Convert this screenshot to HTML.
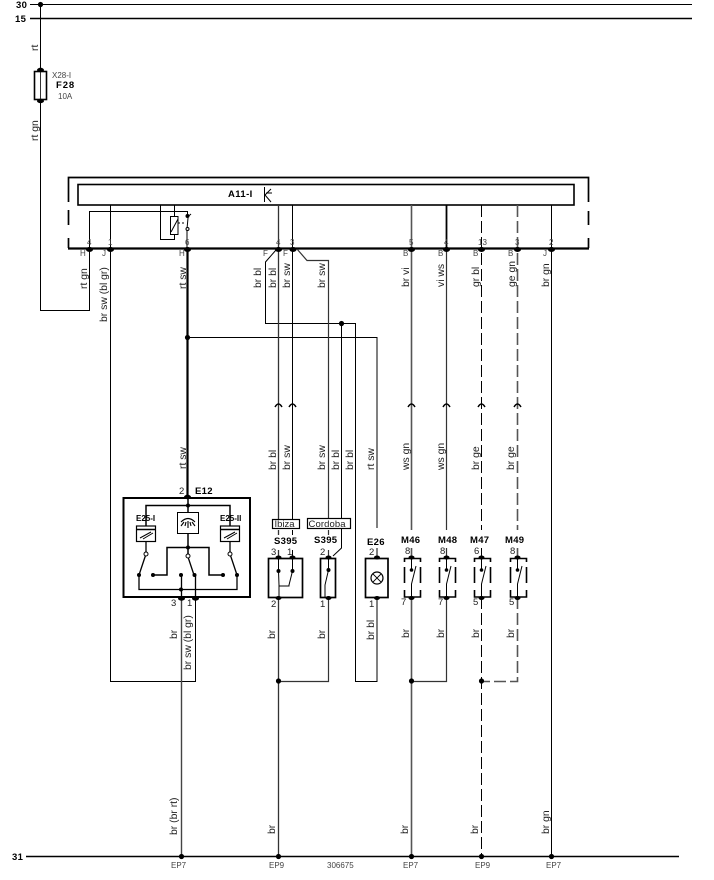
<!DOCTYPE html>
<html>
<head>
<meta charset="utf-8">
<style>
html,body{margin:0;padding:0;background:#fff;width:714px;height:880px;overflow:hidden}
svg{display:block}
text{font-family:"Liberation Sans",sans-serif;font-size:9.5px;fill:#222}
.b{font-weight:bold;fill:#000;font-size:9.5px;letter-spacing:.3px}
.s{font-size:8px;fill:#444}
.v{font-size:10.4px;fill:#222}
</style>
</head>
<body>
<svg width="714" height="880" viewBox="0 0 714 880" xmlns="http://www.w3.org/2000/svg">
<rect width="714" height="880" fill="#fff"/>
<g fill="none" stroke="#000" stroke-width="1">
<!-- buses -->
<path d="M30 4.5H692" stroke-width="1.1"/>
<path d="M30 18.5H692" stroke-width="1.5"/>
<path d="M26 856.5H679" stroke-width="1.6"/>
<!-- supply wire -->
<path d="M40.5 4V71M40.5 100V310.5H89.5V248"/>
<rect x="34.5" y="71.5" width="12" height="28" stroke-width="1.6"/>
<path d="M40.5 71V100" stroke="#333"/>
<!-- frame -->
<path d="M68.5 202V177.5H588.5V202M68.5 210V225M588.5 211V225M68.5 238V248M588.5 238V248" stroke-width="1.7"/>
<path d="M68 248.5H589" stroke-width="2.2"/>
<rect x="78" y="184.5" width="496" height="20.5" stroke-width="1.6"/>
<!-- transistor -->
<path d="M264.5 187V202M265 195L271 189M265 195L271 202M266 193H272" stroke-width="1"/>
<!-- relay -->
<path d="M89.5 248V211.5H187.5V217"/>
<path d="M160.5 205V239.5H174.5V234M174.5 205V216"/>
<rect x="170.5" y="216.5" width="7.5" height="18"/>
<path d="M171 232L178 219"/>
<path d="M178 223H186" stroke-dasharray="2 2"/>
<path d="M187.5 217L191 214M188 218L187 229V248"/>
<circle cx="187.5" cy="229" r="1.5" fill="#fff"/>
<circle cx="187.5" cy="216" r="1.5" fill="#000"/>
<!-- wires from controller -->
<path d="M110.5 205V681.5H195.5V597"/>
<path d="M187.5 248V497" stroke-width="2.2"/>
<path d="M187 337.5H377M377 337V528M377 548V558M377 598V681.5H355.5V323.5H265.5V262L276 250"/>
<path d="M278.5 205V519M278.5 530V535M278.5 550V558M278.5 597V856" stroke="#333" stroke-width="1.3"/>
<path d="M292.5 205V519M292.5 530V535M292.5 550V558"/>
<path d="M297 249L307 260.5H328.5V518M328.5 530V535M328.5 550V558M328.5 597V681.5H278" stroke="#333" stroke-width="1.2"/>
<path d="M341.5 323V518M341.5 528V548L333 556"/>
<path d="M181.5 597V856" stroke="#444" stroke-width="1.4"/>
<path d="M411.5 205V530M411.5 548V558M411.5 597V856" stroke="#555" stroke-width="1.6"/>
<path d="M446.5 205V248" stroke-width="1.8"/>
<path d="M446.5 248V530M446.5 548V558M446.5 597V681.5H411" stroke="#333" stroke-width="1.2"/>
<path d="M481.5 205V530M481.5 548V558M481.5 597V856" stroke-dasharray="12 4"/>
<path d="M517.5 205V530M517.5 548V558M517.5 597V681.5H481" stroke="#555" stroke-width="1.6" stroke-dasharray="12 4"/>
<path d="M551.5 205V856"/>
<!-- chevrons -->
<path d="M275 407Q278.5 401 282 407M289 407Q292.5 401 296 407M408 407Q411.5 401 415 407M443 407Q446.5 401 450 407M478 407Q481.5 401 485 407M514 407Q517.5 401 521 407" stroke-width="1.5"/>
<!-- E12 -->
<rect x="123.5" y="498" width="126.5" height="99" stroke-width="2"/>
<path d="M146 526V505.5H230V526M188 498V512M188 533V556" stroke-width="1.5"/>
<rect x="177.5" y="512.5" width="21" height="21"/>
<path d="M181 522Q188 515 195 522M181 526L184 522M188 528V521M195 526L192 522M185 526L186 522M191 526L190 522" stroke-width="1.1"/>
<rect x="136.5" y="526" width="19" height="15.5" stroke-width="1.2"/>
<rect x="220.5" y="526" width="19" height="15.5" stroke-width="1.2"/>
<path d="M137 529.5H155M221 529.5H239" stroke-width="1.6"/>
<path d="M140 538L151 532M143 539L153 533M224 538L235 532M227 539L237 533" stroke-width="1"/>
<path d="M146 541V553M230 541V553M146 554L139 575M230 554L237 575M188 557L194 575" stroke-width="1.3"/>
<path d="M153 575H167V547.5H209V575H223" stroke-width="1.5"/>
<path d="M139 575V589.5H237V575M181.5 575V597M195.5 575V597" stroke-width="1.3"/>
<circle cx="146" cy="554" r="2" fill="#fff"/>
<circle cx="188" cy="556" r="2" fill="#fff"/>
<circle cx="230" cy="554" r="2" fill="#fff"/>
<!-- name boxes -->
<rect x="272.5" y="519.5" width="27" height="9" stroke-width="1.2"/>
<rect x="307.5" y="518.5" width="43" height="10" stroke-width="1.2"/>
<!-- S395 -->
<rect x="268.5" y="558.5" width="34" height="39" stroke-width="1.7"/>
<rect x="320.5" y="558.5" width="15" height="39" stroke-width="1.7"/>
<path d="M278.5 558V571M292.5 558V571M278.5 571L279 585V597M292.5 571L289 585V586H279" stroke-width="1"/>
<path d="M328.5 558V570L325 585V597" stroke-width="1"/>
<!-- E26 -->
<rect x="365.5" y="558.5" width="22.5" height="39" stroke-width="1.7"/>
<circle cx="377" cy="578" r="6" stroke-width="1.2"/>
<path d="M372.7 573.7L381.3 582.3M381.3 573.7L372.7 582.3"/>
<!-- Motors -->
<g stroke-width="1.6">
<path d="M404.5 562V558.5H420.5V562M404.5 567V583M420.5 567V583M404.5 590V597H420.5V590"/>
<path d="M439.5 562V558.5H455.5V562M439.5 567V583M455.5 567V583M439.5 590V597H455.5V590"/>
<path d="M474.5 562V558.5H490.5V562M474.5 567V583M490.5 567V583M474.5 590V597H490.5V590"/>
<path d="M510.5 562V558.5H526.5V562M510.5 567V583M526.5 567V583M510.5 590V597H526.5V590"/>
</g>
<path d="M411.5 558V570M416 566L411.5 584V597M446.5 558V570M451 566L446.5 584V597M481.5 558V570M486 566L481.5 584V597M517.5 558V570M522 566L517.5 584V597"/>
</g>
<!-- dots -->
<g fill="#000">
<circle cx="40.5" cy="4.5" r="2.6"/>
<circle cx="187.5" cy="337.5" r="2.6"/>
<circle cx="341.5" cy="323.5" r="2.6"/>
<circle cx="278.5" cy="681" r="2.6"/>
<circle cx="411.5" cy="681" r="2.6"/>
<circle cx="481.5" cy="681" r="2.6"/>
<circle cx="181.5" cy="856.5" r="2.6"/>
<circle cx="278.5" cy="856.5" r="2.6"/>
<circle cx="411.5" cy="856.5" r="2.6"/>
<circle cx="481.5" cy="856.5" r="2.6"/>
<circle cx="551.5" cy="856.5" r="2.6"/>
<circle cx="188" cy="505.5" r="2"/><circle cx="188" cy="547.5" r="2"/>
<circle cx="139" cy="575" r="2"/><circle cx="153" cy="575" r="2"/>
<circle cx="181" cy="575" r="2"/><circle cx="194.5" cy="575" r="2"/>
<circle cx="223" cy="575" r="2"/><circle cx="237" cy="575" r="2"/>
<circle cx="181" cy="589.5" r="2"/>
<circle cx="278.5" cy="571" r="2"/><circle cx="292.5" cy="571" r="2"/><circle cx="328.5" cy="570" r="2"/>
<circle cx="411.5" cy="570" r="1.8"/><circle cx="446.5" cy="570" r="1.8"/><circle cx="481.5" cy="570" r="1.8"/><circle cx="517.5" cy="570" r="1.8"/>
<!-- connectors -->
<ellipse cx="40.5" cy="70" rx="3.5" ry="2.2"/><ellipse cx="40.5" cy="101" rx="3.5" ry="2.2"/>
<ellipse cx="89.5" cy="249.5" rx="3.5" ry="2.5"/><ellipse cx="110.5" cy="249.5" rx="3.5" ry="2.5"/>
<ellipse cx="187.5" cy="249.5" rx="3.5" ry="2.5"/><ellipse cx="278.5" cy="249.5" rx="3.5" ry="2.5"/>
<ellipse cx="293" cy="249.5" rx="3.5" ry="2.5"/><ellipse cx="411.5" cy="249.5" rx="3.5" ry="2.5"/>
<ellipse cx="446.5" cy="249.5" rx="3.5" ry="2.5"/><ellipse cx="481.5" cy="249.5" rx="3.5" ry="2.5"/>
<ellipse cx="517.5" cy="249.5" rx="3.5" ry="2.5"/><ellipse cx="551.5" cy="249.5" rx="3.5" ry="2.5"/>
<ellipse cx="187.5" cy="497" rx="3.5" ry="2.2"/>
<ellipse cx="181.5" cy="598.5" rx="3.5" ry="2.2"/><ellipse cx="195.5" cy="598.5" rx="3.5" ry="2.2"/>
<ellipse cx="278.5" cy="557.5" rx="3" ry="2"/><ellipse cx="292.5" cy="557.5" rx="3" ry="2"/>
<ellipse cx="278.5" cy="598" rx="3" ry="2"/>
<ellipse cx="328.5" cy="557.5" rx="3" ry="2"/><ellipse cx="328.5" cy="598" rx="3" ry="2"/>
<ellipse cx="377" cy="557.5" rx="3" ry="2"/><ellipse cx="377" cy="598" rx="3" ry="2"/>
<ellipse cx="411.5" cy="557.5" rx="3" ry="2"/><ellipse cx="411.5" cy="598" rx="3" ry="2"/>
<ellipse cx="446.5" cy="557.5" rx="3" ry="2"/><ellipse cx="446.5" cy="598" rx="3" ry="2"/>
<ellipse cx="481.5" cy="557.5" rx="3" ry="2"/><ellipse cx="481.5" cy="598" rx="3" ry="2"/>
<ellipse cx="517.5" cy="557.5" rx="3" ry="2"/><ellipse cx="517.5" cy="598" rx="3" ry="2"/>
</g>
<!-- horizontal labels -->
<text class="b" x="16" y="8">30</text>
<text class="b" x="15" y="22">15</text>
<text class="b" x="12" y="860">31</text>
<text class="s" x="52" y="78">X28-I</text>
<text class="b" x="56" y="88" style="letter-spacing:.9px">F28</text>
<text class="s" x="58" y="99">10A</text>
<text class="b" x="228" y="197" style="letter-spacing:.4px">A11-I</text>
<text class="b" x="195" y="494">E12</text>
<text x="179" y="494">2</text>
<text class="b" x="136" y="521" style="font-size:8px;letter-spacing:0">E25-I</text>
<text class="b" x="220" y="521" style="font-size:8px;letter-spacing:0">E25-II</text>
<text x="171" y="606">3</text><text x="187" y="606">1</text>
<text x="274.5" y="527">Ibiza</text>
<text x="308.5" y="527" style="letter-spacing:.1px">Cordoba</text>
<text class="b" x="274" y="544">S395</text>
<text class="b" x="314" y="543">S395</text>
<text class="b" x="367" y="545">E26</text>
<text class="b" x="401" y="543">M46</text>
<text class="b" x="438" y="543">M48</text>
<text class="b" x="470" y="543">M47</text>
<text class="b" x="505" y="543">M49</text>
<text x="271" y="555">3</text><text x="287" y="555">1</text><text x="271" y="607">2</text>
<text x="320" y="555">2</text><text x="320" y="607">1</text>
<text x="369" y="555">2</text><text x="369" y="607">1</text>
<text x="405" y="554">8</text><text x="440" y="554">8</text><text x="474" y="554">6</text><text x="510" y="554">8</text>
<text x="401" y="605">7</text><text x="438" y="605">7</text><text x="473" y="605">5</text><text x="509" y="605">5</text>
<g class="n">
<text class="s" x="87" y="245">4</text><text class="s" x="108" y="245">1</text><text class="s" x="185" y="245">6</text>
<text class="s" x="276" y="245">4</text><text class="s" x="290" y="245">3</text><text class="s" x="409" y="245">5</text>
<text class="s" x="444" y="245">4</text><text class="s" x="478" y="245">13</text><text class="s" x="515" y="245">3</text><text class="s" x="549" y="245">2</text>
<text class="s" x="80" y="256">H</text><text class="s" x="102" y="256">J</text><text class="s" x="179" y="256">H</text>
<text class="s" x="263" y="256">F</text><text class="s" x="283" y="256">F</text>
<text class="s" x="403" y="256">B</text><text class="s" x="438" y="256">B</text><text class="s" x="473" y="256">B</text><text class="s" x="508" y="256">B</text><text class="s" x="543" y="256">J</text>
</g>
<text class="s" x="171" y="868">EP7</text><text class="s" x="269" y="868">EP9</text>
<text class="s" x="327" y="868">306675</text>
<text class="s" x="403" y="868">EP7</text><text class="s" x="475" y="868">EP9</text><text class="s" x="546" y="868">EP7</text>
<!-- vertical labels -->
<g class="v">
<text class="v" transform="translate(38 51) rotate(-90)">rt</text>
<text class="v" transform="translate(38 141) rotate(-90)">rt gn</text>
<text class="v" transform="translate(87 289) rotate(-90)">rt gn</text>
<text class="v" transform="translate(107 322) rotate(-90)">br sw (bl gr)</text>
<text class="v" transform="translate(186 289) rotate(-90)">rt sw</text>
<text class="v" transform="translate(261 288) rotate(-90)">br bl</text>
<text class="v" transform="translate(276 288) rotate(-90)">br bl</text>
<text class="v" transform="translate(290 288) rotate(-90)">br sw</text>
<text class="v" transform="translate(325 288) rotate(-90)">br sw</text>
<text class="v" transform="translate(409 287) rotate(-90)">br vi</text>
<text class="v" transform="translate(444 287) rotate(-90)">vi ws</text>
<text class="v" transform="translate(479 287) rotate(-90)">gr bl</text>
<text class="v" transform="translate(515 287) rotate(-90)">ge gn</text>
<text class="v" transform="translate(549 287) rotate(-90)">br gn</text>
<text class="v" transform="translate(186 469) rotate(-90)">rt sw</text>
<text class="v" transform="translate(276 470) rotate(-90)">br bl</text>
<text class="v" transform="translate(290 470) rotate(-90)">br sw</text>
<text class="v" transform="translate(325 470) rotate(-90)">br sw</text>
<text class="v" transform="translate(339 470) rotate(-90)">br bl</text>
<text class="v" transform="translate(353 470) rotate(-90)">br bl</text>
<text class="v" transform="translate(374 470) rotate(-90)">rt sw</text>
<text class="v" transform="translate(409 470) rotate(-90)">ws gn</text>
<text class="v" transform="translate(444 470) rotate(-90)">ws gn</text>
<text class="v" transform="translate(479 470) rotate(-90)">br ge</text>
<text class="v" transform="translate(514 470) rotate(-90)">br ge</text>
<text class="v" transform="translate(177 639) rotate(-90)">br</text>
<text class="v" transform="translate(191 670) rotate(-90)">br sw (bl gr)</text>
<text class="v" transform="translate(275 639) rotate(-90)">br</text>
<text class="v" transform="translate(325 639) rotate(-90)">br</text>
<text class="v" transform="translate(374 640) rotate(-90)">br bl</text>
<text class="v" transform="translate(409 638) rotate(-90)">br</text>
<text class="v" transform="translate(444 638) rotate(-90)">br</text>
<text class="v" transform="translate(479 638) rotate(-90)">br</text>
<text class="v" transform="translate(514 638) rotate(-90)">br</text>
<text class="v" transform="translate(177 835) rotate(-90)">br (br rt)</text>
<text class="v" transform="translate(275 834) rotate(-90)">br</text>
<text class="v" transform="translate(408 834) rotate(-90)">br</text>
<text class="v" transform="translate(478 834) rotate(-90)">br</text>
<text class="v" transform="translate(549 834) rotate(-90)">br gn</text>
</g>
</svg>
</body>
</html>
